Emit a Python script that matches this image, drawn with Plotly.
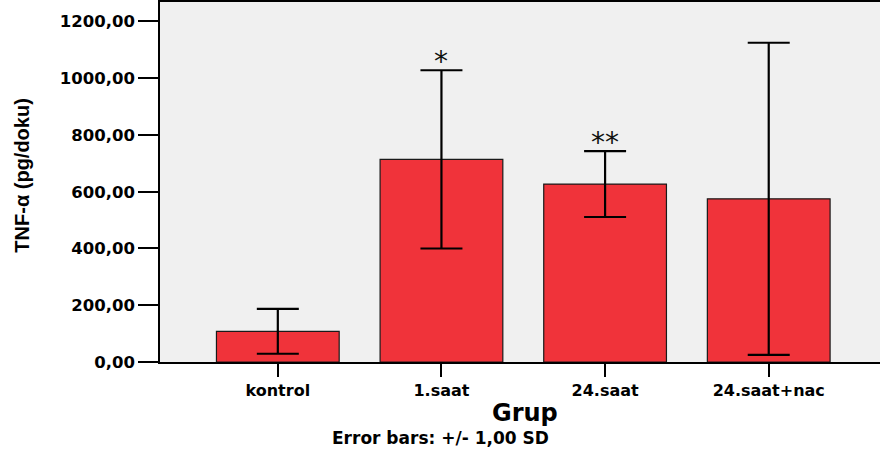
import plotly.graph_objects as go

# Group means and standard deviations of TNF-α (pg/doku)
groups = ["kontrol", "1.saat", "24.saat", "24.saat+nac"]
means = [108, 714, 627, 575]
sds = [79, 314, 116, 550]
significance = ["", "*", "**", ""]

y_ticks = [0, 200, 400, 600, 800, 1000, 1200]
y_tick_text = ["0,00", "200,00", "400,00", "600,00", "800,00", "1000,00", "1200,00"]

fig = go.Figure()
fig.add_trace(go.Bar(
    x=list(range(len(groups))),
    y=means,
    width=0.75,
    marker=dict(color="#f0333a", line=dict(color="#1a1a1a", width=1.2)),
    error_y=dict(type="data", array=sds, visible=True,
                 color="black", thickness=2.2, width=21),
))

# Significance markers above the upper error caps
for i, (m, s, mark) in enumerate(zip(means, sds, significance)):
    if mark:
        fig.add_annotation(x=i, y=m + s, text=mark, showarrow=False,
                           xref="x", yref="y", yanchor="bottom", yshift=-10,
                           font=dict(family="DejaVu Sans", size=28, color="#111"))

fig.add_annotation(text="TNF-α (pg/doku)", textangle=-90, showarrow=False,
                   xref="paper", yref="paper", x=-0.192, y=0.517,
                   xanchor="center", yanchor="middle",
                   font=dict(family="Liberation Sans", size=20, color="black", weight="bold"))
fig.add_annotation(text="Grup", showarrow=False, xref="paper", yref="paper",
                   x=0.507, y=0, yshift=-51, xanchor="center", yanchor="middle",
                   font=dict(family="DejaVu Sans", size=24, color="black", weight="bold"))
fig.add_annotation(text="Error bars: +/- 1,00 SD", showarrow=False,
                   xref="paper", yref="paper", x=0.389, y=0, yshift=-76,
                   xanchor="center", yanchor="middle",
                   font=dict(family="DejaVu Sans", size=17, color="black", weight="bold"))

fig.update_layout(
    width=880, height=459,
    margin=dict(l=160, r=0, t=2, b=97),
    paper_bgcolor="white",
    plot_bgcolor="#f0f0f0",
    showlegend=False,
)
fig.update_xaxes(
    range=[-0.72, 3.68],
    tickmode="array", tickvals=list(range(len(groups))), ticktext=groups,
    ticks="outside", ticklen=13, tickwidth=1.5, tickcolor="black",
    showline=True, linecolor="black", linewidth=1.6, mirror=True,
    showgrid=False, zeroline=False,
    tickfont=dict(family="DejaVu Sans", size=16, color="black", weight="bold"),
)
fig.update_yaxes(
    range=[0, 1268.5],
    tickmode="array", tickvals=y_ticks, ticktext=y_tick_text,
    ticks="outside", ticklen=20, tickwidth=1.5, tickcolor="black",
    showline=True, linecolor="black", linewidth=1.6,
    showgrid=False, zeroline=False,
    tickfont=dict(family="DejaVu Sans", size=16.5, color="black", weight="bold"),
)

fig.write_html("out.html")
